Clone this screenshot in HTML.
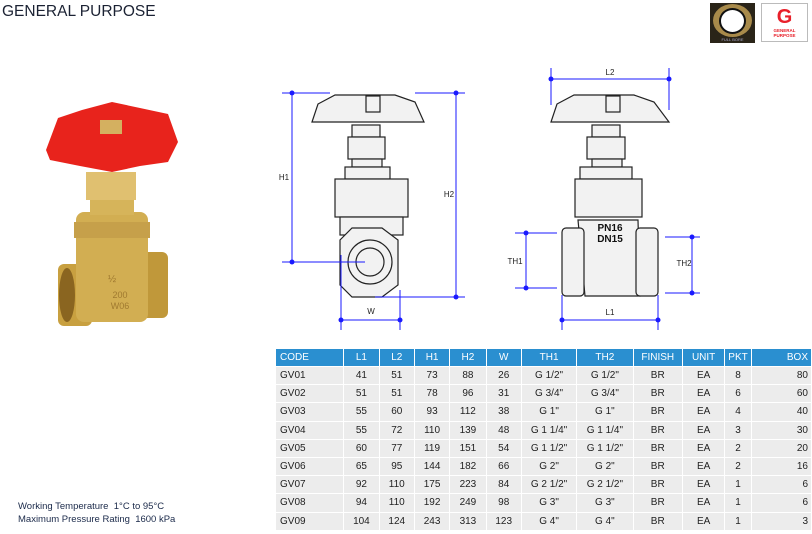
<!DOCTYPE html>
<html><head><meta charset="utf-8"><style>
body{margin:0;width:812px;height:534px;background:#fff;position:relative;overflow:hidden;font-family:"Liberation Sans",sans-serif;}
.t{position:absolute;left:2px;top:3px;font-size:15.5px;color:#1b2233;letter-spacing:0}
.n{position:absolute;left:18px;font-size:9.5px;color:#1b2a4a}
table{position:absolute;left:275px;top:348px;border-collapse:collapse;font-size:10px;color:#222}
td,th{height:17.2px;padding:0 3px;border:1px solid #fff;text-align:center;background:#ececec}
th{background:#2a8fd0;color:#fff;font-weight:normal;height:17px}
td:first-child,th:first-child{text-align:left;padding-left:4px}
td:last-child,th:last-child{text-align:right}
</style></head><body>
<div class="t">GENERAL PURPOSE</div>
<div style="position:absolute;left:710px;top:3px;width:45px;height:40px;background:#2a2418"><div style="position:absolute;left:3px;top:1px;width:39px;height:33px;border-radius:50%;background:#a88a4a"></div><div style="position:absolute;left:9px;top:5px;width:27px;height:26px;border-radius:50%;background:#fff;border:2px solid #111;box-sizing:border-box"></div><div style="position:absolute;left:0;top:34px;width:45px;font-size:4px;color:#aac;text-align:center">FULL BORE</div></div>
<div style="position:absolute;left:761px;top:3px;width:47px;height:39px;border:1px solid #bbb;box-sizing:border-box;text-align:center;color:#e8202a"><div style="font-size:20px;font-weight:bold;line-height:22px;margin-top:2px">G</div><div style="font-size:4.5px;font-weight:bold;line-height:5px">GENERAL<br>PURPOSE</div></div>
<svg width="812" height="534" style="position:absolute;left:0;top:0">
<!-- photo -->
<rect x="58" y="264" width="34" height="62" rx="6" fill="#c8a040"/>
<rect x="140" y="252" width="28" height="66" rx="6" fill="#c0983a"/>
<ellipse cx="67" cy="295" rx="8" ry="27" fill="#8a6520"/>
<rect x="76" y="212" width="72" height="110" rx="8" fill="#d2ae52"/>
<rect x="74" y="222" width="76" height="16" fill="#c6a04a"/>
<rect x="90" y="193" width="44" height="22" fill="#d6b45a"/>
<rect x="86" y="172" width="50" height="28" fill="#e0c070"/>
<path d="M46 150 L58 118 L82 110 L112 102 L140 108 L168 114 L178 142 L168 162 L140 166 L112 172 L80 166 L50 160 Z" fill="#e8231c"/>
<rect x="100" y="120" width="22" height="14" fill="#d4b060"/>
<text x="112" y="282" font-size="10" fill="#a07a30" text-anchor="middle">½</text>
<text x="120" y="298" font-size="9" fill="#a07a30" text-anchor="middle">200</text>
<text x="120" y="309" font-size="9" fill="#a07a30" text-anchor="middle">W06</text>
<!-- left valve drawing -->
<g fill="#f2f2f2" stroke="#222" stroke-width="1.2">
<path d="M312 122 L318 104 L335 95 L395 95 L415 102 L424 122 Z"/>
<rect x="352" y="125" width="28" height="12"/>
<rect x="348" y="137" width="37" height="22"/>
<rect x="352" y="159" width="30" height="8"/>
<rect x="345" y="167" width="45" height="12"/>
<rect x="335" y="179" width="73" height="38"/>
<rect x="340" y="217" width="63" height="18"/>
<polygon points="352,228 382,228 398,240 398,285 382,297 352,297 340,285 340,240"/>
<circle cx="370" cy="262" r="22"/><circle cx="370" cy="262" r="14"/>
<rect x="366" y="96" width="14" height="16"/>
</g>
<g fill="#f2f2f2" stroke="#222" stroke-width="1.2">
<path d="M551 122 L557 104 L574 95 L634 95 L654 102 L669 122 Z"/>
<rect x="592" y="125" width="28" height="12"/>
<rect x="587" y="137" width="38" height="22"/>
<rect x="592" y="159" width="30" height="8"/>
<rect x="580" y="167" width="52" height="12"/>
<rect x="575" y="179" width="67" height="38"/>
<path d="M578 220 L638 220 L640 296 L585 296 Z"/>
<rect x="562" y="228" width="22" height="68" rx="4"/>
<rect x="636" y="228" width="22" height="68" rx="4"/>
<rect x="606" y="96" width="14" height="16"/>
</g>
<text x="610" y="231" font-size="10" font-weight="bold" text-anchor="middle" fill="#111">PN16</text>
<text x="610" y="242" font-size="10" font-weight="bold" text-anchor="middle" fill="#111">DN15</text>
<!-- dimensions -->
<g stroke="#1a1aff" stroke-width="1" fill="none">
<path d="M282 93H330M292 93V262M282 262H365M415 93H465M456 93V297M375 297H465M341 255V330M400 290V330M341 320H400"/>
<path d="M551 68V105M669 68V110M551 79H669M515 233H557M515 288H557M526 233V288M665 237H700M665 293H700M692 237V293M562 295V330M658 295V330M562 320H658"/>
</g>
<g fill="#1a1aff">
<circle cx="292" cy="93" r="2.5"/><circle cx="292" cy="262" r="2.5"/><circle cx="456" cy="93" r="2.5"/><circle cx="456" cy="297" r="2.5"/><circle cx="341" cy="320" r="2.5"/><circle cx="400" cy="320" r="2.5"/>
<circle cx="551" cy="79" r="2.5"/><circle cx="669" cy="79" r="2.5"/><circle cx="526" cy="233" r="2.5"/><circle cx="526" cy="288" r="2.5"/><circle cx="692" cy="237" r="2.5"/><circle cx="692" cy="293" r="2.5"/><circle cx="562" cy="320" r="2.5"/><circle cx="658" cy="320" r="2.5"/>
</g>
<g font-size="8" fill="#222" text-anchor="middle">
<text x="284" y="180">H1</text><text x="449" y="197">H2</text><text x="371" y="314">W</text>
<text x="610" y="75">L2</text><text x="515" y="264">TH1</text><text x="684" y="266">TH2</text><text x="610" y="315">L1</text>
</g>
</svg>
<div class="n" style="top:501px">Working Temperature&nbsp; 1°C to 95°C</div>
<div class="n" style="top:514px">Maximum Pressure Rating&nbsp; 1600 kPa</div>
<table>
<tr><th style="width:62px">CODE</th><th style="width:29px">L1</th><th style="width:29px">L2</th><th style="width:29px">H1</th><th style="width:30px">H2</th><th style="width:29px">W</th><th style="width:50px">TH1</th><th style="width:51px">TH2</th><th style="width:43px">FINISH</th><th style="width:36px">UNIT</th><th style="width:17px">PKT</th><th style="width:55px">BOX</th></tr>
<tr><td>GV01</td><td>41</td><td>51</td><td>73</td><td>88</td><td>26</td><td>G 1/2"</td><td>G 1/2"</td><td>BR</td><td>EA</td><td>8</td><td>80</td></tr>
<tr><td>GV02</td><td>51</td><td>51</td><td>78</td><td>96</td><td>31</td><td>G 3/4"</td><td>G 3/4"</td><td>BR</td><td>EA</td><td>6</td><td>60</td></tr>
<tr><td>GV03</td><td>55</td><td>60</td><td>93</td><td>112</td><td>38</td><td>G 1"</td><td>G 1"</td><td>BR</td><td>EA</td><td>4</td><td>40</td></tr>
<tr><td>GV04</td><td>55</td><td>72</td><td>110</td><td>139</td><td>48</td><td>G 1 1/4"</td><td>G 1 1/4"</td><td>BR</td><td>EA</td><td>3</td><td>30</td></tr>
<tr><td>GV05</td><td>60</td><td>77</td><td>119</td><td>151</td><td>54</td><td>G 1 1/2"</td><td>G 1 1/2"</td><td>BR</td><td>EA</td><td>2</td><td>20</td></tr>
<tr><td>GV06</td><td>65</td><td>95</td><td>144</td><td>182</td><td>66</td><td>G 2"</td><td>G 2"</td><td>BR</td><td>EA</td><td>2</td><td>16</td></tr>
<tr><td>GV07</td><td>92</td><td>110</td><td>175</td><td>223</td><td>84</td><td>G 2 1/2"</td><td>G 2 1/2"</td><td>BR</td><td>EA</td><td>1</td><td>6</td></tr>
<tr><td>GV08</td><td>94</td><td>110</td><td>192</td><td>249</td><td>98</td><td>G 3"</td><td>G 3"</td><td>BR</td><td>EA</td><td>1</td><td>6</td></tr>
<tr><td>GV09</td><td>104</td><td>124</td><td>243</td><td>313</td><td>123</td><td>G 4"</td><td>G 4"</td><td>BR</td><td>EA</td><td>1</td><td>3</td></tr>
</table>
</body></html>
